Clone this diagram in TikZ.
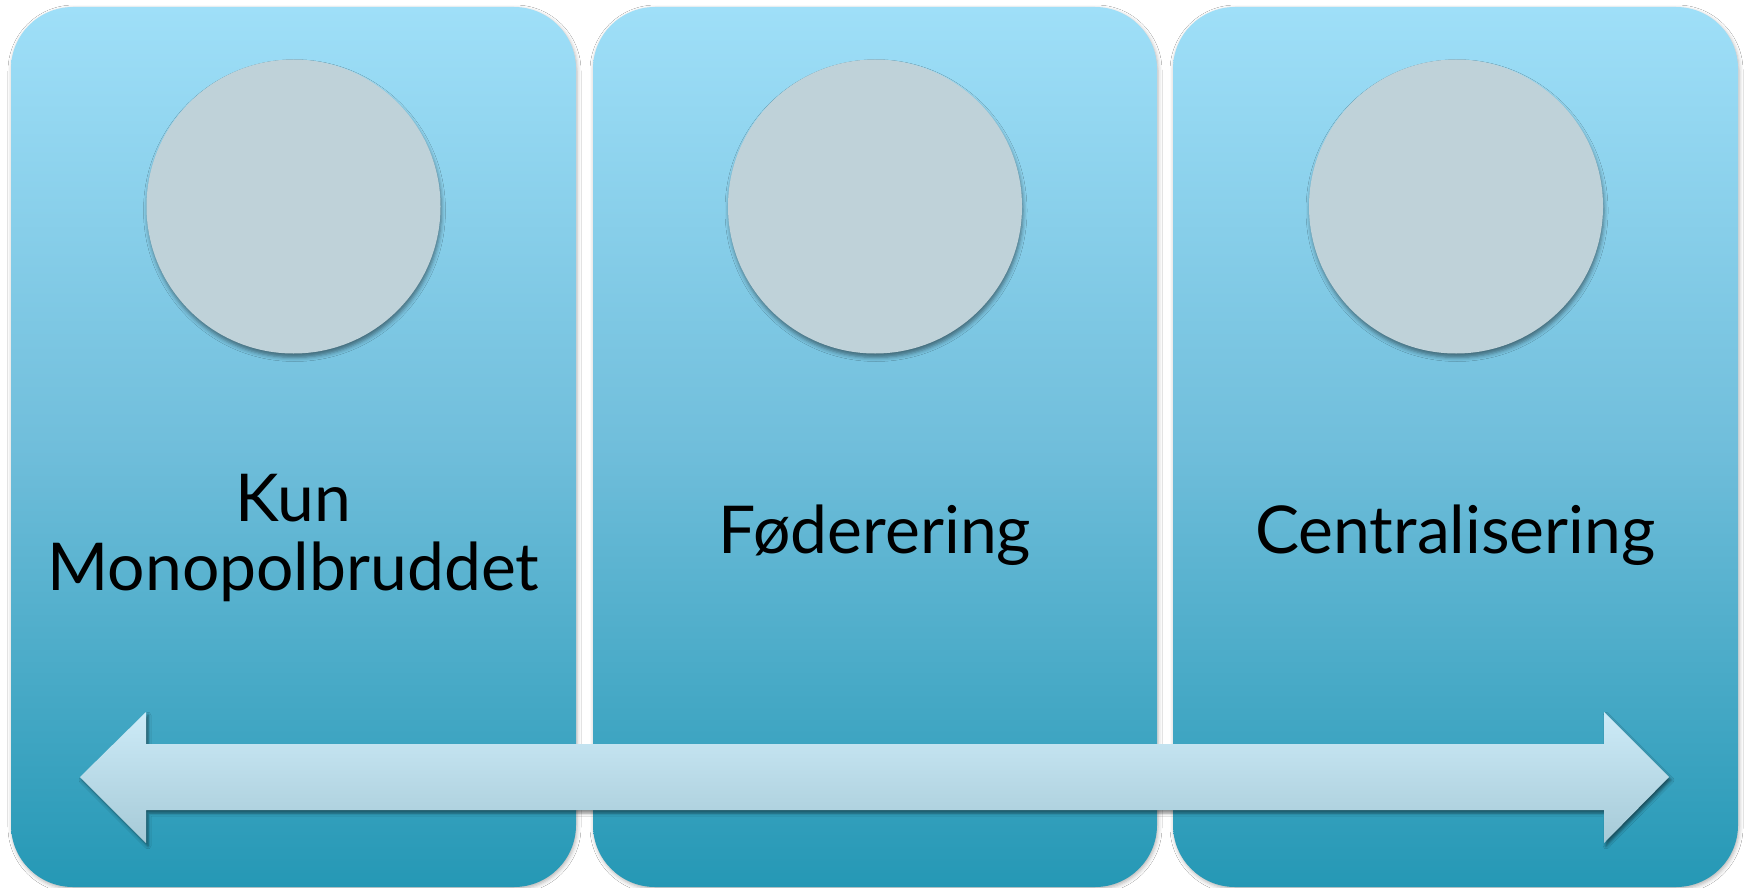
\documentclass[tikz,border=0pt]{standalone}
\usepackage{fontspec}
\setmainfont{Lato}
\usetikzlibrary{shadows.blur,shadings}
\definecolor{ptop}{HTML}{9FDFF8}
\definecolor{pmid}{HTML}{70BEDB}
\definecolor{pbot}{HTML}{2598B5}
\definecolor{circ}{HTML}{BFD2D9}
\definecolor{atop}{HTML}{CDEBF8}
\definecolor{abot}{HTML}{A6CAD7}
\tikzset{
  panel/.style={rounded corners=62pt, top color=ptop, bottom color=pbot, middle color=pmid,
    blur shadow={shadow xshift=1pt, shadow yshift=-2pt, shadow blur radius=4pt, shadow opacity=30}},
  disc/.style={circle, minimum size=294pt, inner sep=0pt, fill=circ,
    blur shadow={shadow xshift=1pt, shadow yshift=-4pt, shadow blur radius=4pt, shadow opacity=45}},
  label/.style={anchor=base, align=center, text=black, font=\fontsize{66}{69}\selectfont},
  bigarrow/.style={top color=atop, bottom color=abot,
    blur shadow={shadow xshift=2pt, shadow yshift=-3pt, shadow blur radius=3pt, shadow opacity=50}}
}
\begin{document}
\begin{tikzpicture}[x=1pt,y=-1pt]
\useasboundingbox (0,0) rectangle (1747,888);
\fill[white] (0,0) rectangle (1747,888);
% panels
\path[panel] (11,7) rectangle (576,887);
\path[panel] (593,7) rectangle (1157,887);
\path[panel] (1173,7) rectangle (1738,887);
% discs
\node[disc] (c1) at (293.5,206.5) {};
\node[disc] (c2) at (875,206.5) {};
\node[disc] (c3) at (1456,206.5) {};
% labels
\node[label] (t1) at (293.5,590) {Kun\\Monopolbruddet};
\node[label] (t2) at (875,553) {Føderering};
\node[label] (t3) at (1455.5,553) {Centralisering};
% double arrow
\path[bigarrow] (80,777) -- (146,712) -- (146,744) -- (1604,744) -- (1604,712) -- (1669,777)
  -- (1604,843) -- (1604,810) -- (146,810) -- (146,843) -- cycle;
\end{tikzpicture}
\end{document}
